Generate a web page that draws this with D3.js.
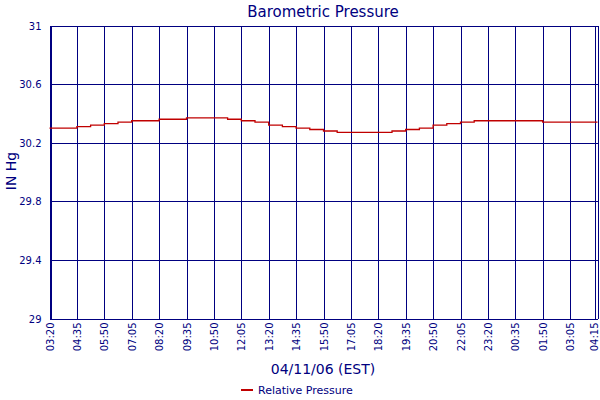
<!DOCTYPE html>
<html><head><meta charset="utf-8">
<script src="https://cdn.jsdelivr.net/npm/d3@7"></script>
<style>body{margin:0;background:#fff}</style></head>
<body><svg id="c" width="600" height="400"></svg>
<script>
const tickLabels=["03:20","04:35","05:50","07:05","08:20","09:35","10:50","12:05","13:20","14:35","15:50","17:05","18:20","19:35","20:50","22:05","23:20","00:35","01:50","03:05","04:15"];
// pressure samples every half tick interval (41 samples)
const pressure=[30.30,30.30,30.31,30.32,30.33,30.34,30.35,30.35,30.36,30.36,30.37,30.37,30.37,30.36,30.35,30.34,30.32,30.31,30.30,30.29,30.28,30.27,30.27,30.27,30.27,30.28,30.29,30.30,30.32,30.33,30.34,30.35,30.35,30.35,30.35,30.35,30.34,30.34,30.34,30.34,30.34];
const yTicks=[29,29.4,29.8,30.2,30.6,31];
const svg=d3.select("#c"),L=49.5,R=597.5,T=25.5,B=318.5,navy="#000080";
const x=d3.scaleLinear().domain([0,pressure.length-1]).range([L,R]);
const xt=d3.scaleLinear().domain([0,tickLabels.length-1]).range([L,R]);
const y=d3.scaleLinear().domain([29,31]).range([B,T]);
const g=svg.append("g").attr("shape-rendering","crispEdges");
tickLabels.forEach((t,i)=>g.append("line").attr("x1",Math.round(xt(i))+0.5).attr("x2",Math.round(xt(i))+0.5).attr("y1",T).attr("y2",B).attr("stroke",navy));
yTicks.forEach(v=>g.append("line").attr("x1",L).attr("x2",R).attr("y1",Math.round(y(v))+0.5).attr("y2",Math.round(y(v))+0.5).attr("stroke",navy));
g.append("line").attr("x1",L+2).attr("x2",L+2).attr("y1",T).attr("y2",B).attr("stroke",navy);
g.append("line").attr("x1",R-2).attr("x2",R-2).attr("y1",T).attr("y2",B).attr("stroke",navy);
svg.append("path").datum(pressure).attr("fill","none").attr("stroke","#c00000").attr("stroke-width",1.3)
 .attr("d",d3.line().x((d,i)=>x(i)).y(d=>y(d)).curve(d3.curveStepAfter));
const f="'DejaVu Sans', sans-serif";
yTicks.forEach(v=>svg.append("text").attr("x",L-8).attr("y",y(v)+4).attr("text-anchor","end").attr("font-family",f).attr("font-size",10).attr("fill",navy).text(v));
tickLabels.forEach((t,i)=>svg.append("text").attr("transform",`translate(${Math.min(xt(i)+4,598)},${B+4}) rotate(-90)`).attr("text-anchor","end").attr("font-family",f).attr("font-size",10).attr("fill",navy).text(t));
svg.append("text").attr("x",323).attr("y",17).attr("text-anchor","middle").attr("font-family",f).attr("font-size",15).attr("fill",navy).text("Barometric Pressure");
svg.append("text").attr("x",323).attr("y",374).attr("text-anchor","middle").attr("font-family",f).attr("font-size",14).attr("fill",navy).text("04/11/06 (EST)");
svg.append("text").attr("transform","translate(16,171) rotate(-90)").attr("text-anchor","middle").attr("font-family",f).attr("font-size",14).attr("fill",navy).text("IN Hg");
svg.append("line").attr("x1",241).attr("x2",253).attr("y1",390).attr("y2",390).attr("stroke","#c00000").attr("stroke-width",2);
svg.append("text").attr("x",258).attr("y",394).attr("font-family",f).attr("font-size",11).attr("fill",navy).text("Relative Pressure");
</script></body></html>
